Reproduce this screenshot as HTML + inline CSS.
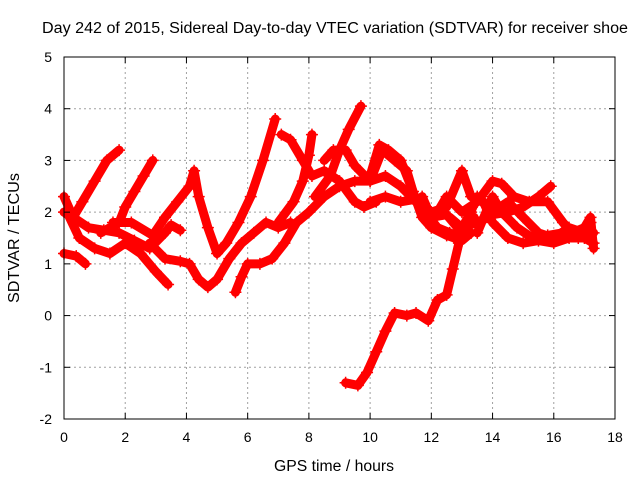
<!DOCTYPE html>
<html><head><meta charset="utf-8"><style>
body{margin:0;background:#fff}
svg{display:block;font-family:"Liberation Sans",sans-serif}
</style></head><body>
<svg id="c" width="640" height="480" viewBox="0 0 640 480">
<rect width="640" height="480" fill="#fff"/>
<text x="42" y="33" font-size="15.5" textLength="586" lengthAdjust="spacingAndGlyphs">Day 242 of 2015, Sidereal Day-to-day VTEC variation (SDTVAR) for receiver shoe</text>
<g id="grid"></g><g id="series"></g><g id="axes"></g>
<text x="274" y="471" font-size="15.5" textLength="120" lengthAdjust="spacingAndGlyphs">GPS time / hours</text>
<text transform="translate(19,303) rotate(-90)" font-size="15.5" textLength="130" lengthAdjust="spacingAndGlyphs">SDTVAR / TECUs</text>
</svg>
<script>
const xTicks=[0,2,4,6,8,10,12,14,16,18];
const yTicks=[-2,-1,0,1,2,3,4,5];
const trackA=[[0,2.0],[0.3,1.9],[0.6,2.2],[1.0,2.6],[1.4,3.0],[1.8,3.2]];
const trackB=[[0,1.2],[0.4,1.15],[0.7,1.0]];
const trackC=[[0,2.3],[0.3,1.9],[0.8,1.7],[1.3,1.65],[1.8,1.6],[2.3,1.45],[2.8,1.3],[3.3,1.6],[3.5,1.75],[3.8,1.65]];
const trackD=[[0.1,2.0],[0.5,1.5],[1,1.3],[1.5,1.2],[2,1.4],[2.5,1.2],[3,0.85],[3.4,0.6]];
const trackE=[[1.2,1.6],[1.8,1.8],[2.0,2.1],[2.3,2.4],[2.6,2.7],[2.9,3.0]];
const trackF=[[1.6,1.8],[2.2,1.8],[2.9,1.55],[3.3,1.9],[3.7,2.2],[4.1,2.5],[4.25,2.8],[4.4,2.3],[4.7,1.7],[5.0,1.2],[5.3,1.4],[5.7,1.8],[6.1,2.3],[6.5,3.0],[6.9,3.8]];
const trackG=[[2.8,1.4],[3.3,1.1],[3.8,1.05],[4.1,1.0],[4.4,0.7],[4.7,0.55],[5,0.7],[5.4,1.1],[5.8,1.4],[6.2,1.6],[6.6,1.8],[7,1.7],[7.4,1.8]];
const trackH=[[5.6,0.45],[5.8,0.75],[6.0,1.0],[6.4,1.0],[6.8,1.1],[7.2,1.4],[7.6,1.8],[8,2.0],[8.5,2.3],[9,2.5],[9.5,2.6],[10,2.6],[10.5,2.7],[11,2.5],[11.5,2.2]];
const trackI=[[7.1,3.5],[7.4,3.4],[7.8,3.0],[8.1,2.7],[8.5,2.8],[9,2.6],[9.5,2.2],[9.8,2.1],[10.2,2.2]];
const trackJ=[[8.2,2.3],[8.7,2.7],[9.0,3.2],[9.3,3.6],[9.7,4.05]];
const trackK=[[7.0,1.8],[7.5,2.2],[7.8,2.6],[8.0,3.1],[8.1,3.5]];
const trackL=[[8.5,3.0],[8.8,3.2],[9.2,3.2],[9.5,2.9],[10,2.6],[10.4,3.2],[10.8,3.0],[11.2,2.8],[11.5,2.2],[11.8,2.0],[12.2,1.7],[12.6,1.6],[13,1.5],[13.4,1.9]];
const trackM=[[9.2,-1.3],[9.6,-1.35],[9.9,-1.1],[10.2,-0.7],[10.5,-0.3],[10.8,0.05],[11.2,0.0],[11.5,0.05],[11.9,-0.1],[12.2,0.3],[12.5,0.4],[12.7,0.9],[12.9,1.4],[13.1,1.8],[13.3,2.0]];
const trackN1=[[10.0,2.7],[10.3,3.3],[10.6,3.2],[11,3.0],[11.4,2.4],[11.7,1.9],[12,1.7],[12.5,1.55],[13,1.45],[13.3,1.6]];
const trackN2=[[10,2.2],[10.5,2.3],[11,2.2],[11.5,2.25],[12,2.0],[12.5,2.1],[13,2.8],[13.3,2.3],[13.7,2.2],[14,1.8],[14.5,1.5],[15,1.4],[15.5,1.45],[16,1.4],[16.5,1.5],[17,1.5],[17.3,1.4]];
const trackN3=[[12,1.8],[12.5,2.3],[13,2.0],[13.5,2.2],[14,2.6],[14.3,2.55],[14.7,2.3],[15.2,2.2],[15.8,2.2],[16.3,1.8],[16.6,1.6],[17,1.7],[17.3,1.6]];
const trackN4=[[12.6,1.9],[13,1.7],[13.5,1.8],[14,1.95],[14.5,2.0],[15,2.1],[15.5,2.3],[15.9,2.5]];
const trackN5=[[13.5,1.6],[14,2.3],[14.3,2.0],[14.8,1.7],[15.3,1.5],[15.8,1.55],[16.3,1.6],[16.8,1.5],[17.2,1.9],[17.3,1.3]];
const trackN6=[[11.7,2.3],[12,1.9],[12.5,1.95],[13,1.6],[13.5,2.3],[14,2.0],[14.5,2.2],[15,1.9],[15.5,1.6],[16,1.5],[16.5,1.7],[17,1.6],[17.2,1.8]];
const tracks=[trackA,trackB,trackC,trackD,trackE,trackF,trackG,trackH,trackI,trackJ,trackK,trackL,trackM,trackN1,trackN2,trackN3,trackN4,trackN5,trackN6];

const L=64,R=615,T=57,B=419,xMin=0,xMax=18,yMin=-2,yMax=5;
const sx=v=>L+(v-xMin)/(xMax-xMin)*(R-L);
const sy=v=>B-(v-yMin)/(yMax-yMin)*(B-T);
const NS="http://www.w3.org/2000/svg";
function mk(tag,attrs,parent){const e=document.createElementNS(NS,tag);for(const k in attrs)e.setAttribute(k,attrs[k]);parent.appendChild(e);return e;}
const grid=document.getElementById('grid'),axes=document.getElementById('axes'),ser=document.getElementById('series');
xTicks.forEach(t=>{
  const x=sx(t);
  if(t>xMin&&t<xMax){const g=mk('line',{x1:x,y1:T,x2:x,y2:B,stroke:'#a0a0a0','stroke-dasharray':'2,3'},grid);
  
  }
  mk('line',{x1:x,y1:B,x2:x,y2:B-6,stroke:'#000'},axes);
  mk('line',{x1:x,y1:T,x2:x,y2:T+6,stroke:'#000'},axes);
  const tx=mk('text',{x:x,y:B+23,'font-size':'14','text-anchor':'middle'},axes);
  tx.textContent=t;
  
  
});
yTicks.forEach(t=>{
  const y=sy(t);
  if(t>yMin&&t<yMax){const g=mk('line',{x1:L,y1:y,x2:R,y2:y,stroke:'#a0a0a0','stroke-dasharray':'2,3'},grid);
  
  }
  mk('line',{x1:L,y1:y,x2:L+6,y2:y,stroke:'#000'},axes);
  mk('line',{x1:R,y1:y,x2:R-6,y2:y,stroke:'#000'},axes);
  const tx=mk('text',{x:52,y:y+5,'font-size':'14','text-anchor':'end'},axes);
  tx.textContent=t;
  
  
});
const fr=mk('rect',{x:L,y:T,width:R-L,height:B-T,fill:'none',stroke:'#000'},axes);


tracks.forEach(tr=>{
  const p=mk('polyline',{points:tr.map(d=>sx(d[0])+','+sy(d[1])).join(' '),fill:'none',stroke:'#ff0000','stroke-width':'9','stroke-linejoin':'round','stroke-linecap':'round'},ser);
  
  
  tr.forEach(d=>{
    const x=sx(d[0]),y=sy(d[1]);
    const m=mk('path',{d:`M${x-6},${y}h12M${x},${y-6}v12`,stroke:'#ff0000','stroke-width':'1.5'},ser);
    
    
  });
});
</script>
</body></html>
